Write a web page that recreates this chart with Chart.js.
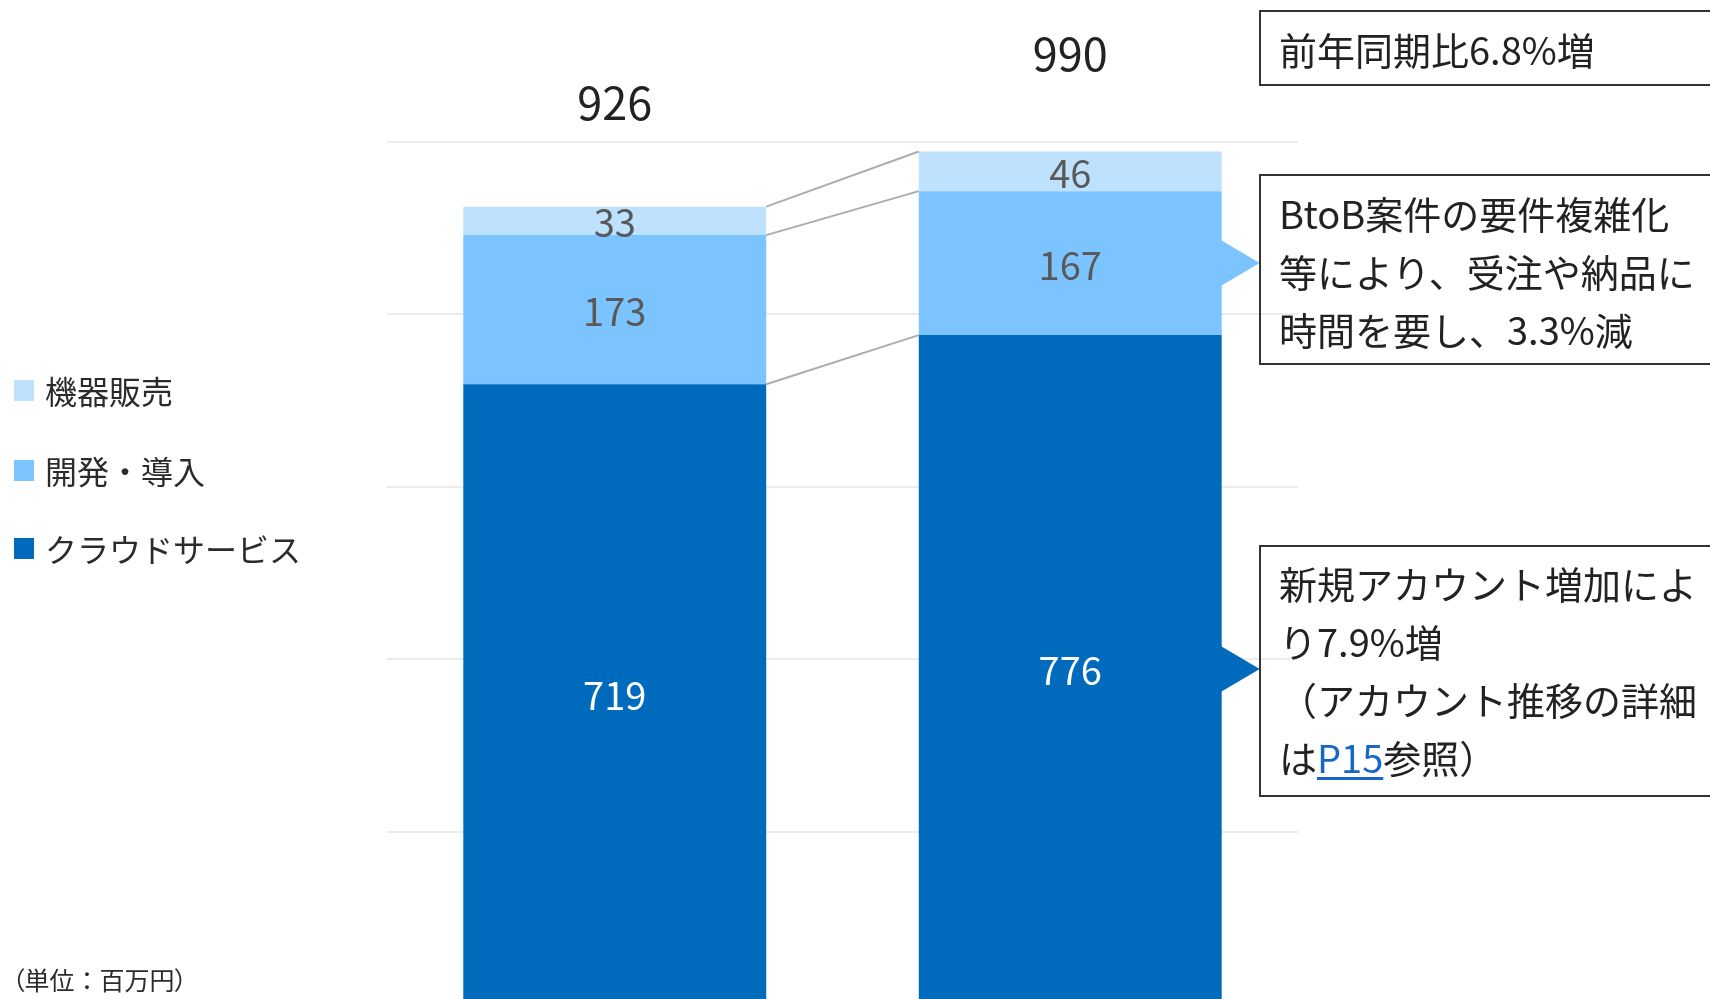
<!DOCTYPE html>
<html lang="ja">
<head>
<meta charset="utf-8">
<title>売上高内訳</title>
<script src="https://cdn.jsdelivr.net/npm/chart.js@4.4.1/dist/chart.umd.min.js"></script>
<style>
  html, body { margin:0; padding:0; background:#fff; }
  body { width:1710px; height:999px; overflow:hidden; position:relative;
         font-family:"Noto Sans CJK JP","Noto Sans",sans-serif; color:#2b2b2b; }
  #wrap { position:absolute; left:0; top:0; width:1710px; height:1010px; }
  #legend { position:absolute; left:14px; top:0; }
  .lg-item { position:absolute; left:0; white-space:nowrap; font-size:32px; line-height:40px; height:40px; }
  .lg-box { position:absolute; left:0; top:10px; width:20px; height:21px; }
  .lg-text { position:absolute; left:31px; top:0; }
  #unit { position:absolute; left:12px; top:963px; font-size:25px; line-height:32px; white-space:nowrap; color:#2b2b2b; }
  #unit .p { font-feature-settings:"palt"; }
  .note { position:absolute; left:1259px; width:520px; box-sizing:border-box; border:2px solid #333;
          background:transparent; font-size:38px; line-height:58px; padding-left:18px; white-space:nowrap; color:#222; }
  .note a { color:#1668c6; text-decoration:underline; text-underline-offset:4px; }
</style>
</head>
<body>
<div id="wrap"><canvas id="c"></canvas></div>
<div id="legend"></div>
<div id="unit"><span class="p">（</span>単位：百万円<span class="p">）</span></div>
<div class="note" style="top:10px;height:76px;padding-top:8px;">前年同期比6.8%増</div>
<div class="note" style="top:174px;height:191px;padding-top:8px;">BtoB案件の要件複雑化<br>等により、受注や納品に<br>時間を要し、3.3%減</div>
<div class="note" style="top:545px;height:252px;padding-top:7px;">新規アカウント増加によ<br>り7.9%増<br>（アカウント推移の詳細<br>は<a>P15</a>参照）</div>
<script>
// ---- data ----
const categories = ['前年同期', '当期'];
const seriesLabels = ['クラウドサービス', '開発・導入', '機器販売'];
const cloudValues = [719, 776];
const devValues = [173, 167];
const deviceValues = [33, 46];
const totalValues = [926, 990];
const yTickValues = [0, 200, 400, 600, 800, 1000];
const seriesColors = ['#006ABD', '#7BC4FF', '#BEE2FE'];
const labelColors = ['#ffffff', '#595959', '#595959'];

const FONT = '"Noto Sans CJK JP", "Noto Sans", sans-serif';

// legend (HTML), top-to-bottom reverse of stacking order
const legendTops = [370, 450, 528];
const legend = document.getElementById('legend');
[2, 1, 0].forEach((di, k) => {
  const item = document.createElement('div');
  item.className = 'lg-item';
  item.style.top = legendTops[k] + 'px';
  const box = document.createElement('span');
  box.className = 'lg-box';
  box.style.background = seriesColors[di];
  const txt = document.createElement('span');
  txt.className = 'lg-text';
  txt.textContent = seriesLabels[di];
  item.appendChild(box); item.appendChild(txt);
  legend.appendChild(item);
});

const overlay = {
  id: 'overlay',
  afterDatasetsDraw(chart, args, opts) {
    const ctx = chart.ctx;
    const metas = [0, 1, 2].map(i => chart.getDatasetMeta(i));
    ctx.save();
    // connector lines between stacked tops
    ctx.strokeStyle = '#acacac';
    ctx.lineWidth = 2;
    metas.forEach(m => {
      const a = m.data[0], b = m.data[1];
      ctx.beginPath();
      ctx.moveTo(a.x + a.width / 2, a.y);
      ctx.lineTo(b.x - b.width / 2, b.y);
      ctx.stroke();
    });
    // arrows to the notes (second bar, cloud & dev segments)
    [0, 1].forEach(di => {
      const el = metas[di].data[1];
      const cy = (el.y + el.base) / 2;
      const x0 = el.x + el.width / 2;
      ctx.fillStyle = seriesColors[di];
      ctx.beginPath();
      ctx.moveTo(x0 - 1, cy - 23);
      ctx.lineTo(x0 + 38, cy);
      ctx.lineTo(x0 - 1, cy + 23);
      ctx.closePath();
      ctx.fill();
    });
    // segment labels
    ctx.textAlign = 'center';
    ctx.textBaseline = 'middle';
    ctx.font = '38px ' + FONT;
    metas.forEach((m, di) => {
      const ds = chart.data.datasets[di];
      m.data.forEach((el, i) => {
        ctx.fillStyle = labelColors[di];
        ctx.fillText(String(ds.data[i]), el.x, (el.y + el.base) / 2 + 2);
      });
    });
    // totals
    ctx.font = '45px ' + FONT;
    ctx.fillStyle = '#222222';
    ctx.textBaseline = 'alphabetic';
    metas[2].data.forEach((el, i) => {
      ctx.fillText(String(totalValues[i]), el.x, el.y - opts.totalGap[i]);
    });
    ctx.restore();
  }
};

new Chart(document.getElementById('c'), {
  type: 'bar',
  data: {
    labels: categories,
    datasets: [
      { label: seriesLabels[0], data: cloudValues, backgroundColor: seriesColors[0] },
      { label: seriesLabels[1], data: devValues, backgroundColor: seriesColors[1] },
      { label: seriesLabels[2], data: deviceValues, backgroundColor: seriesColors[2] }
    ]
  },
  options: {
    responsive: true,
    maintainAspectRatio: false,
    animation: false,
    events: [],
    layout: { padding: { left: 387, right: 412, top: 142, bottom: 6 } },
    datasets: { bar: { categoryPercentage: 1, barPercentage: 0.665, borderWidth: 0 } },
    plugins: {
      legend: { display: false },
      tooltip: { enabled: false },
      overlay: { totalGap: [87, 80] }
    },
    scales: {
      x: { stacked: true, display: false },
      y: {
        stacked: true, min: 0, max: 1000,
        afterBuildTicks: (scale) => { scale.ticks = yTickValues.map(v => ({ value: v })); },
        ticks: { display: false },
        grid: { color: '#ebebeb', lineWidth: 2, drawTicks: false },
        border: { display: false }
      }
    }
  },
  plugins: [overlay]
});
</script>
</body>
</html>
